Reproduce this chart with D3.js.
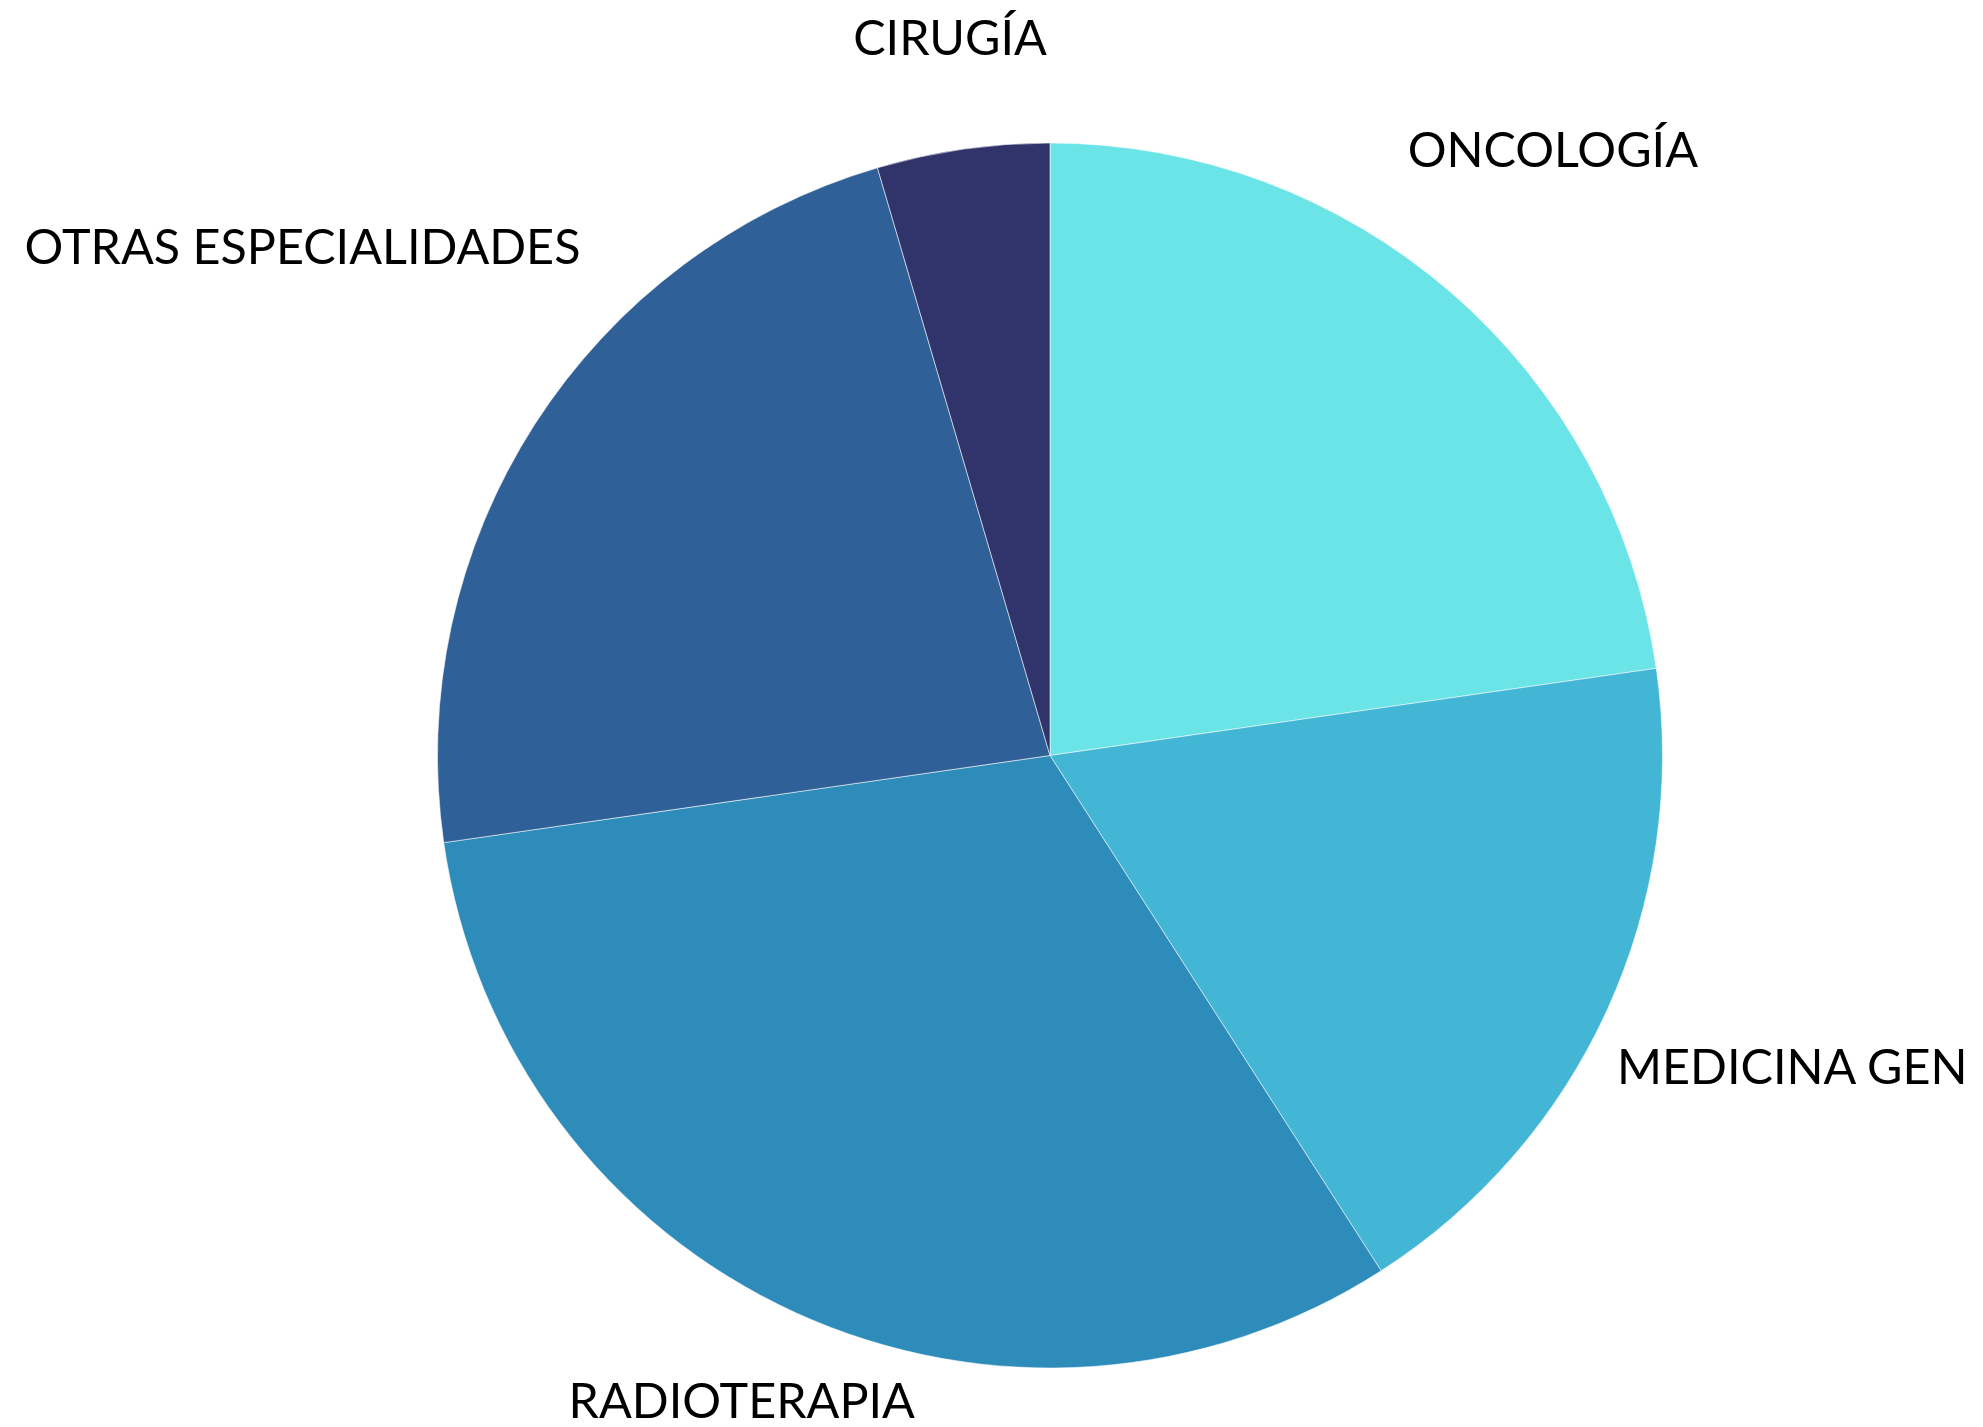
<!DOCTYPE html>
<html>
<head>
<meta charset="utf-8">
<script src="https://cdn.jsdelivr.net/npm/d3@7"></script>
<style>
  html, body { margin: 0; padding: 0; background: #fff; }
  svg { display: block; }
  .label { font-family: Lato, "Open Sans", sans-serif; font-size: 48.5px; fill: #000; }
</style>
</head>
<body>
<svg id="chart"></svg>
<script>
const width = 1983;
const height = 1427;

// ----- DATA -----
const categories = ["ONCOLOGÍA", "MEDICINA GENERAL", "RADIOTERAPIA", "OTRAS ESPECIALIDADES", "CIRUGÍA"];
const values = [5, 4, 7, 5, 1];
const colors = ["#6be4e8", "#43b6d5", "#2e8cba", "#2f6098", "#30346a"];

// label placement: radius factor and small angle nudge (degrees)
const labelRadius = [1.285, 1.402, 1.167, 1.476, 1.183];
const labelNudge = [-1.2, -3.3, 1.0, 1.5, 0.25];

const data = categories.map((c, i) => ({ name: c, value: values[i], color: colors[i], i }));

const svg = d3.select("#chart")
  .attr("width", width)
  .attr("height", height)
  .attr("viewBox", [0, 0, width, height]);

const cx = 1050;
const cy = 755.5;
const radius = 612.5;

const g = svg.append("g").attr("transform", `translate(${cx},${cy})`);

const pie = d3.pie().sort(null).value(d => d.value);
const arc = d3.arc().innerRadius(0).outerRadius(radius);
const arcs = pie(data);

g.selectAll("path.slice")
  .data(arcs)
  .join("path")
  .attr("class", "slice")
  .attr("d", arc)
  .attr("fill", d => d.data.color)
  .attr("stroke", "#fff")
  .attr("stroke-opacity", 0.55)
  .attr("stroke-width", 1);

const labels = g.append("g");

labels.selectAll("text")
  .data(arcs)
  .join("text")
  .attr("class", "label")
  .attr("dy", "0.36em")
  .text(d => d.data.name)
  .each(function (d) {
    const i = d.data.i;
    const a = (d.startAngle + d.endAngle) / 2 + labelNudge[i] * Math.PI / 180;
    const r = radius * labelRadius[i];
    const px = r * Math.sin(a);
    const py = -r * Math.cos(a);
    const el = d3.select(this);
    // centre on the full label, then cut text that would run past the chart edge
    const left = px - this.getComputedTextLength() / 2;
    el.attr("x", left).attr("y", py);
    const room = width - cx - left;
    let txt = d.data.name;
    while (this.getComputedTextLength() > room && txt.length > 1) {
      txt = txt.slice(0, -1);
      el.text(txt.trimEnd());
    }
  });
</script>
</body>
</html>
